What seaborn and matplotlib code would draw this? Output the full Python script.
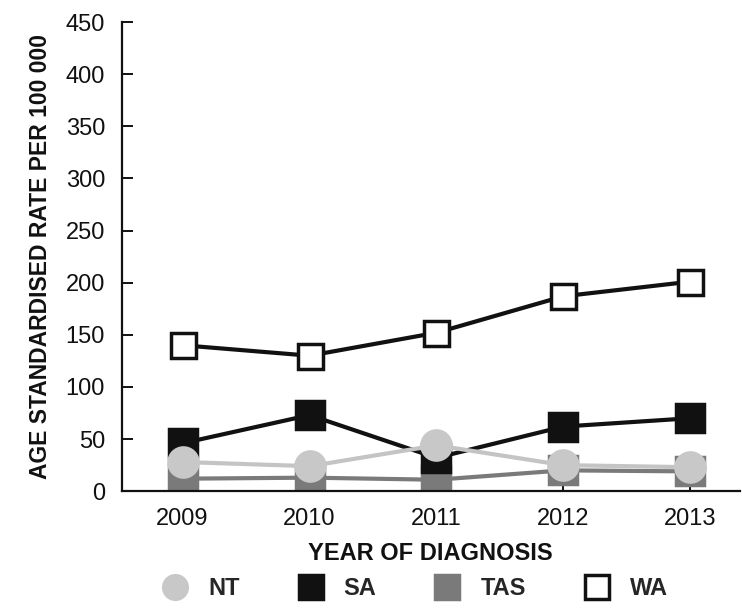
import pandas as pd
import matplotlib.pyplot as plt
import seaborn as sns
from matplotlib.lines import Line2D

years = [2009, 2010, 2011, 2012, 2013]
nt = [28, 24, 44, 25, 23]
sa = [46, 73, 32, 62, 70]
tas = [12, 13, 11, 20, 19]
wa = [140, 130, 152, 187, 201]

y_ticks = [0, 50, 100, 150, 200, 250, 300, 350, 400, 450]

sns.set_theme(style="ticks")
plt.rcParams['font.family'] = ['Liberation Sans', 'DejaVu Sans']

df = pd.DataFrame({
    'year': years * 4,
    'rate': tas + sa + wa + nt,
    'state': ['TAS'] * 5 + ['SA'] * 5 + ['WA'] * 5 + ['NT'] * 5,
})

# line colour, marker, face colour, edge colour, marker size
styles = {
    'TAS': ('#7a7a7a', 's', '#7a7a7a', '#7a7a7a', 20),
    'SA': ('#111111', 's', '#111111', '#111111', 20),
    'WA': ('#111111', 's', 'white', '#111111', 18),
    'NT': ('#c4c4c4', 'o', '#c8c8c8', '#c8c8c8', 21),
}

fig = plt.figure(figsize=(7.42, 6.14), dpi=100)
ax = fig.add_axes([0.164, 0.200, 0.833, 0.764])

for state in ['TAS', 'SA', 'WA', 'NT']:
    lc, mk, fc, ec, ms = styles[state]
    sub = df[df['state'] == state]
    sns.lineplot(data=sub, x='year', y='rate', ax=ax, color=lc, linewidth=3,
                 marker=mk, markersize=ms, markerfacecolor=fc,
                 markeredgecolor=ec, markeredgewidth=2.5, legend=False)

ax.set_xlim(2008.52, 2013.39)
ax.set_ylim(0, 450)
ax.set_xticks(years)
ax.set_yticks(y_ticks)
ax.tick_params(direction='in', length=8, width=1.4, labelsize=17, colors='#111111')
ax.tick_params(axis='y', pad=12)
ax.tick_params(axis='x', pad=12)
sns.despine(ax=ax)
for s in ['left', 'bottom']:
    ax.spines[s].set_linewidth(1.6)
    ax.spines[s].set_color('#111111')

ax.set_xlabel('YEAR OF DIAGNOSIS', fontsize=17, fontweight='bold', color='#111111', labelpad=9)
ax.set_ylabel('AGE STANDARDISED RATE PER 100 000', fontsize=16.5, fontweight='bold', color='#111111', labelpad=10)

handles = []
for state in ['NT', 'SA', 'TAS', 'WA']:
    lc, mk, fc, ec, ms = styles[state]
    handles.append(Line2D([], [], linestyle='none', marker=mk, markersize=17,
                          markerfacecolor=fc, markeredgecolor=ec, markeredgewidth=2.5,
                          label=state))
leg = fig.legend(handles=handles, loc='lower center', bbox_to_anchor=(0.552, -0.012), ncol=4,
                 frameon=False, columnspacing=2.0, handletextpad=0.4,
                 prop={'size': 17, 'weight': 'bold'})

fig.savefig('out.png', dpi=100)
